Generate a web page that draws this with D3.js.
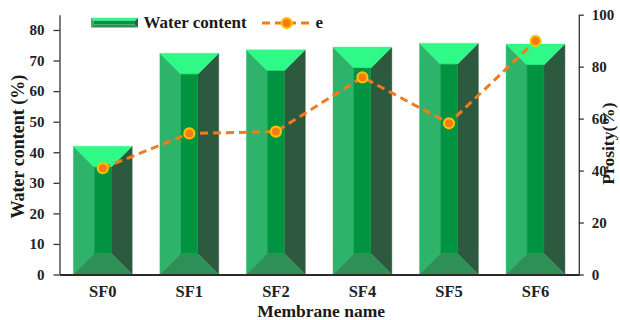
<!DOCTYPE html>
<html>
<head>
<meta charset="utf-8">
<script src="https://cdn.jsdelivr.net/npm/d3@7/dist/d3.min.js"></script>
<style>
  html, body { margin: 0; padding: 0; background: #fff; }
  svg { display: block; font-family: "Liberation Serif", "Times New Roman", serif; font-weight: bold; }
</style>
</head>
<body>
<svg id="chart" width="620" height="320"></svg>
<script>
// Membranes and their measured properties
const membranes = ["SF0", "SF1", "SF2", "SF4", "SF5", "SF6"];
const waterContent = [42.0, 72.4, 73.5, 74.4, 75.7, 75.4];   // %
const porosity = [40.9, 54.3, 55.0, 75.9, 58.2, 89.9];        // %
const leftTicks = [0, 10, 20, 30, 40, 50, 60, 70, 80];
const rightTicks = [0, 20, 40, 60, 80, 100];

const svg = d3.select("#chart");
const plot = { left: 59.5, right: 578.8, top: 14.7, bottom: 274.5 };

const x = d3.scaleBand().domain(membranes).range([plot.left, plot.right]).paddingInner(0.32).paddingOuter(0.16);
const yL = d3.scaleLinear().domain([0, 85]).range([plot.bottom, plot.top]);
const yR = d3.scaleLinear().domain([0, 100]).range([plot.bottom, plot.top]);

// Bevelled bar faces
const face = {
  top: "#2FFA87",
  left: "#2DB36A",
  front: "#009440",
  right: "#2D5A3E",
  bottom: "#2E9057"
};

function bevelFaces(x0, x1, y0, y1, b) {
  const ix0 = x0 + b, ix1 = x1 - b, iy0 = y0 + b, iy1 = y1 - b;
  return [
    { c: face.left, p: [[x0, y0], [ix0, iy0], [ix0, iy1], [x0, y1]] },
    { c: face.right, p: [[x1, y0], [ix1, iy0], [ix1, iy1], [x1, y1]] },
    { c: face.top, p: [[x0, y0], [x1, y0], [ix1, iy0], [ix0, iy0]] },
    { c: face.bottom, p: [[x0, y1], [x1, y1], [ix1, iy1], [ix0, iy1]] },
    { c: face.front, p: [[ix0, iy0], [ix1, iy0], [ix1, iy1], [ix0, iy1]] }
  ];
}

const bars = svg.append("g").attr("class", "bars");
membranes.forEach((m, i) => {
  const x0 = x(m), x1 = x(m) + x.bandwidth();
  const y0 = yL(waterContent[i]), y1 = yL(0);
  const g = bars.append("g");
  g.selectAll("polygon")
    .data(bevelFaces(x0, x1, y0, y1, 21))
    .join("polygon")
    .attr("points", d => d.p.map(q => q.join(",")).join(" "))
    .attr("fill", d => d.c)
    .attr("stroke", d => d.c)
    .attr("stroke-width", 0.4);
});

// Axes
const axisColor = "#333";
const gL = svg.append("g")
  .attr("transform", `translate(${plot.left},0)`)
  .call(d3.axisLeft(yL).tickValues(leftTicks).tickSize(6).tickPadding(9).tickSizeOuter(0));
const gR = svg.append("g")
  .attr("transform", `translate(${plot.right},0)`)
  .call(d3.axisRight(yR).tickValues(rightTicks).tickSize(5).tickPadding(8).tickSizeOuter(0));
const gX = svg.append("g")
  .attr("transform", `translate(0,${plot.bottom})`)
  .call(d3.axisBottom(x).tickSize(0).tickPadding(10.5).tickSizeOuter(0));

[gL, gR].forEach(g => {
  g.select(".domain").attr("stroke", axisColor).attr("stroke-width", 1.3);
  g.selectAll(".tick line").attr("stroke", axisColor).attr("stroke-width", 1.3);
  g.selectAll(".tick text")
    .attr("fill", "#222")
    .style("font-family", "'Liberation Serif', serif")
    .style("font-weight", "bold")
    .style("font-size", "15px");
});
gX.select(".domain").attr("stroke", "#2a2a2a").attr("stroke-width", 2.2);
gX.selectAll(".tick text")
  .attr("fill", "#222")
  .style("font-family", "'Liberation Serif', serif")
  .style("font-weight", "bold")
  .style("font-size", "16.5px");

// Porosity line
const lineColor = "#F57A1C";
const line = d3.line()
  .x((d, i) => x(membranes[i]) + x.bandwidth() / 2)
  .y(d => yR(d));
svg.append("path")
  .datum(porosity)
  .attr("d", line)
  .attr("fill", "none")
  .attr("stroke", lineColor)
  .attr("stroke-width", 3)
  .attr("stroke-dasharray", "8,5");
svg.append("g").selectAll("circle")
  .data(porosity)
  .join("circle")
  .attr("cx", (d, i) => x(membranes[i]) + x.bandwidth() / 2)
  .attr("cy", d => yR(d))
  .attr("r", 5)
  .attr("fill", "#F77A14")
  .attr("stroke", "#FFC000")
  .attr("stroke-width", 2.2);

// Axis titles
svg.append("text")
  .attr("transform", `translate(24,${(plot.top + plot.bottom) / 2 + 2}) rotate(-90)`)
  .attr("text-anchor", "middle")
  .style("font-size", "18px")
  .attr("fill", "#1a1a1a")
  .text("Water content (%)");
svg.append("text")
  .attr("transform", `translate(614,${(plot.top + plot.bottom) / 2 - 1}) rotate(-90)`)
  .attr("text-anchor", "middle")
  .style("font-size", "17.5px")
  .attr("fill", "#1a1a1a")
  .text("Prosity(%)");
svg.append("text")
  .attr("x", (plot.left + plot.right) / 2 + 2)
  .attr("y", 317)
  .attr("text-anchor", "middle")
  .style("font-size", "17.5px")
  .attr("fill", "#1a1a1a")
  .text("Membrane name");

// Legend
const legend = svg.append("g");
legend.selectAll("polygon")
  .data(bevelFaces(91, 138, 17.7, 27.5, 3))
  .join("polygon")
  .attr("points", d => d.p.map(q => q.join(",")).join(" "))
  .attr("fill", d => d.c);
legend.append("text")
  .attr("x", 143.5).attr("y", 28.3)
  .style("font-size", "17px")
  .attr("fill", "#1a1a1a")
  .text("Water content");
legend.append("line")
  .attr("x1", 262).attr("x2", 311).attr("y1", 23).attr("y2", 23)
  .attr("stroke", lineColor).attr("stroke-width", 3).attr("stroke-dasharray", "8,5");
legend.append("circle")
  .attr("cx", 286.7).attr("cy", 23).attr("r", 5)
  .attr("fill", "#F77A14").attr("stroke", "#FFC000").attr("stroke-width", 2.2);
legend.append("text")
  .attr("x", 315.5).attr("y", 28.3)
  .style("font-size", "17px")
  .attr("fill", "#1a1a1a")
  .text("e");
</script>
</body>
</html>
